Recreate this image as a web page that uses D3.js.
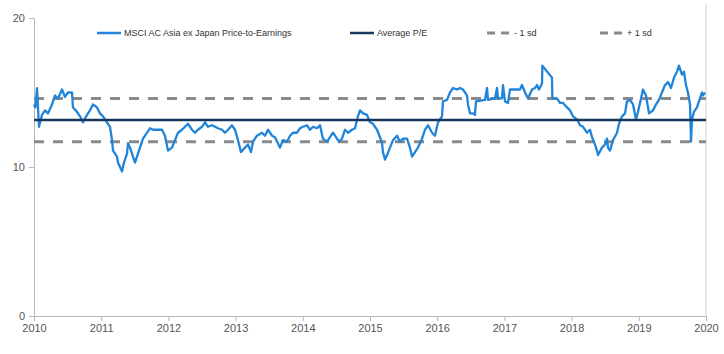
<!DOCTYPE html>
<html>
<head>
<meta charset="utf-8">
<script src="https://cdn.jsdelivr.net/npm/d3@7"></script>
<style>
  body { margin: 0; background: #fff; }
  svg { display: block; font-family: "Liberation Sans", Arial, sans-serif; }
</style>
</head>
<body>
<svg width="724" height="354"></svg>
<script>
// time as decimal years after 2010, P/E
var years = [0.00, 0.02, 0.045, 0.074, 0.119, 0.164, 0.208, 0.268, 0.313, 0.357, 0.417, 0.461, 0.506, 0.565, 0.58, 0.64, 0.685, 0.729, 0.789, 0.833, 0.878, 0.9375, 0.982,
  1.027, 1.086, 1.131, 1.161, 1.176, 1.235, 1.25, 1.31, 1.339, 1.384, 1.399, 1.429, 1.473, 1.503, 1.533, 1.577, 1.622, 1.682, 1.726, 1.771, 1.83, 1.905, 1.949, 1.994,
  2.054, 2.098, 2.143, 2.202, 2.247, 2.292, 2.351, 2.396, 2.44, 2.5, 2.545, 2.589, 2.649, 2.693, 2.738, 2.798, 2.842, 2.887, 2.946, 2.991,
  3.036, 3.08, 3.14, 3.185, 3.229, 3.259, 3.318, 3.393, 3.4375, 3.482, 3.542, 3.586, 3.661, 3.705, 3.765, 3.81, 3.854, 3.914, 3.958,
  4.003, 4.0625, 4.107, 4.152, 4.211, 4.256, 4.30, 4.36, 4.405, 4.449, 4.509, 4.539, 4.583, 4.628, 4.673, 4.732, 4.777, 4.821, 4.851, 4.896, 4.955,
  5.0, 5.045, 5.104, 5.149, 5.179, 5.193, 5.223, 5.253, 5.298, 5.342, 5.402, 5.446, 5.491, 5.55, 5.595, 5.625, 5.67, 5.714, 5.774, 5.818, 5.863, 5.923, 5.967,
  6.012, 6.071, 6.086, 6.146, 6.19, 6.235, 6.295, 6.339, 6.384, 6.443, 6.458, 6.488, 6.533, 6.562, 6.577, 6.711, 6.741, 6.756, 6.86, 6.89, 6.905, 6.964, 6.979,
  7.009, 7.054, 7.083, 7.232, 7.262, 7.307, 7.351, 7.411, 7.455, 7.485, 7.515, 7.56, 7.565, 7.708, 7.714, 7.783, 7.827, 7.872, 7.932, 7.976,
  8.021, 8.08, 8.125, 8.17, 8.229, 8.274, 8.304, 8.348, 8.378, 8.393, 8.452, 8.497, 8.527, 8.542, 8.571, 8.616, 8.676, 8.705, 8.75, 8.795, 8.824, 8.869, 8.914, 8.958, 8.988,
  9.033, 9.062, 9.107, 9.152, 9.211, 9.256, 9.30, 9.345, 9.39, 9.435, 9.479, 9.524, 9.568, 9.598, 9.643, 9.673, 9.702, 9.732, 9.762, 9.777, 9.792, 9.82, 9.866, 9.911, 9.94, 9.955, 9.985];

var pe = [14.2, 14.0, 15.3, 12.7, 13.5, 13.8, 13.6, 14.2, 14.8, 14.6, 15.2, 14.7, 15.0, 15.0, 14.0, 13.7, 13.4, 13.0, 13.5, 13.8, 14.2, 14.0, 13.6,
  13.4, 13.0, 12.7, 11.8, 11.1, 10.7, 10.3, 9.7, 10.3, 10.9, 11.6, 11.3, 10.7, 10.3, 10.7, 11.3, 11.9, 12.3, 12.6, 12.5, 12.5, 12.5, 12.1, 11.1,
  11.3, 11.8, 12.3, 12.5, 12.7, 12.9, 12.5, 12.3, 12.5, 12.7, 13.0, 12.7, 12.8, 12.7, 12.6, 12.5, 12.3, 12.5, 12.8, 12.5,
  11.8, 11.0, 11.3, 11.5, 11.0, 11.7, 12.1, 12.3, 12.1, 12.5, 12.1, 12.0, 11.3, 11.8, 11.7, 12.1, 12.3, 12.3, 12.6,
  12.7, 12.8, 12.5, 12.7, 12.6, 12.8, 11.9, 11.7, 12.0, 12.3, 11.9, 11.7, 11.9, 12.5, 12.3, 12.5, 12.6, 13.4, 13.8, 13.6, 13.5,
  13.0, 12.9, 12.5, 12.0, 11.6, 11.0, 10.5, 10.8, 11.3, 11.8, 12.1, 11.7, 11.9, 11.9, 11.3, 10.7, 11.0, 11.3, 11.9, 12.5, 12.8, 12.3, 12.1,
  13.0, 13.4, 14.4, 14.5, 15.0, 15.3, 15.2, 15.3, 15.2, 14.8, 14.2, 13.6, 13.6, 13.5, 14.4, 14.5, 15.3, 14.5, 14.6, 15.3, 14.6, 14.6, 15.5,
  14.4, 14.3, 15.2, 15.2, 15.5, 15.0, 14.6, 15.2, 15.3, 15.5, 15.2, 15.6, 16.8, 16.0, 14.6, 14.6, 14.3, 14.3, 14.0, 13.8,
  13.4, 13.2, 12.8, 12.7, 12.3, 12.5, 12.0, 11.5, 11.1, 10.8, 11.3, 11.5, 11.9, 11.3, 11.1, 11.8, 12.3, 12.9, 13.4, 13.6, 14.4, 14.5, 14.2, 13.2, 13.7,
  14.6, 15.2, 14.8, 13.6, 13.8, 14.2, 14.5, 15.0, 15.5, 15.7, 15.3, 16.0, 16.4, 16.8, 16.2, 16.4, 15.5, 15.0, 14.2, 11.7, 13.2, 13.7, 14.0, 14.6, 15.0, 14.8, 15.0];

var avgPE = 13.15;
var minusSd = 11.7;
var plusSd = 14.6;

var xTicks = [2010, 2011, 2012, 2013, 2014, 2015, 2016, 2017, 2018, 2019, 2020];
var yTicks = [0, 10, 20];

var legendNames = ['MSCI AC Asia ex Japan Price-to-Earnings', 'Average P/E', '- 1 sd', '+ 1 sd'];

var svg = d3.select('svg');
var plotLeft = 34, plotRight = 706, plotTop = 18, plotBottom = 316;

var x = d3.scaleLinear().domain([2010, 2020]).range([plotLeft, plotRight]);
var y = d3.scaleLinear().domain([0, 20]).range([plotBottom, plotTop]);

// right border
svg.append('line')
  .attr('x1', plotRight).attr('x2', plotRight)
  .attr('y1', 4).attr('y2', plotBottom)
  .style('stroke', '#d0d0d0')
  .style('stroke-width', 1);

// axes
var yAxis = svg.append('g')
  .attr('transform', 'translate(' + plotLeft + ',0)')
  .call(d3.axisLeft(y).tickValues(yTicks).tickSize(5).tickPadding(4));
var xAxis = svg.append('g')
  .attr('transform', 'translate(0,' + plotBottom + ')')
  .call(d3.axisBottom(x).tickValues(xTicks).tickFormat(d3.format('d')).tickSize(5).tickPadding(3));

[yAxis, xAxis].forEach(function (ax) {
  ax.select('.domain').style('stroke', '#b8b8b8');
  ax.selectAll('.tick line').style('stroke', '#b8b8b8');
  ax.selectAll('.tick text')
    .style('fill', '#555')
    .style('font-size', '11px')
    .style('font-family', '"Liberation Sans", Arial, sans-serif');
});

// reference lines
function hline(v, color, dash, w) {
  svg.append('line')
    .attr('x1', plotLeft).attr('x2', plotRight)
    .attr('y1', y(v)).attr('y2', y(v))
    .style('stroke', color)
    .style('stroke-width', w)
    .style('stroke-dasharray', dash);
}
hline(plusSd, '#8a8a8a', '10,9', 3);
hline(minusSd, '#8a8a8a', '10,9', 3);

var line = d3.line()
  .x(function (d, i) { return x(2010 + years[i]); })
  .y(function (d) { return y(d); });

svg.append('path')
  .datum(pe)
  .attr('d', line)
  .style('fill', 'none')
  .style('stroke', '#2084d9')
  .style('stroke-width', 2.3)
  .style('stroke-linejoin', 'round');

hline(avgPE, '#17375e', null, 2.5);

// legend
var legendX = [97, 350, 487, 600];
var legendStyle = [
  { color: '#2084d9', dash: null, w: 2.5 },
  { color: '#17375e', dash: null, w: 2.5 },
  { color: '#8a8a8a', dash: '8,6', w: 3 },
  { color: '#8a8a8a', dash: '8,6', w: 3 }
];
var lg = svg.append('g');
legendNames.forEach(function (name, i) {
  lg.append('line')
    .attr('x1', legendX[i]).attr('x2', legendX[i] + 24)
    .attr('y1', 33).attr('y2', 33)
    .style('stroke', legendStyle[i].color)
    .style('stroke-width', legendStyle[i].w)
    .style('stroke-dasharray', legendStyle[i].dash);
  lg.append('text')
    .attr('x', legendX[i] + 27)
    .attr('y', 36)
    .text(name)
    .style('font-size', '9px')
    .style('fill', '#333');
});
</script>
</body>
</html>
